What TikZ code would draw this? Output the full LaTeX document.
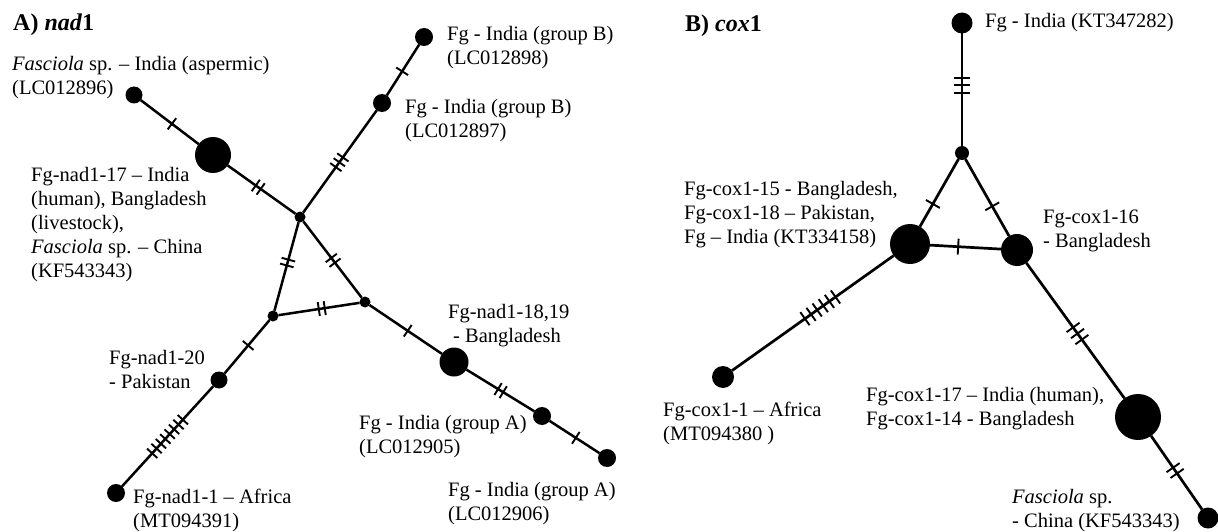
\documentclass[tikz,border=0pt]{standalone}
\usepackage{fontspec}
\setmainfont{Liberation Serif}
\newcommand\hatchmarks[6]{%
  \path (#1.center) -- (#2.center) node[pos=#3, sloped, inner sep=0pt, outer sep=0pt]
    {\tikz[x=1pt,y=1pt]{\foreach \k in {1,...,#4}{\draw[line width=1.9pt] (\k*#5,-#6)--(\k*#5,#6);}}};%
}
\tikzset{
  hap/.style={circle, fill=black, inner sep=0pt, outer sep=0pt, minimum size=#1},
  edge/.style={line width=2.5pt},
  lab/.style={anchor=base west, align=left, inner sep=0pt, font=\fontsize{20.5}{24}\selectfont},
  ttl/.style={anchor=base west, inner sep=0pt, font=\fontsize{24}{28}\selectfont\bfseries},
}
\begin{document}
\begin{tikzpicture}[x=1pt,y=-1pt]
\useasboundingbox (0,0) rectangle (1218,532);
\fill[white] (0,0) rectangle (1218,532);
% ---------------- A) nad1 ----------------
\node[ttl] (ta) at (13,31) {A) \textit{nad}1};
\node[hap=17] (L1) at (134,95) {};
\node[hap=36] (N17) at (213,155) {};
\node[hap=11] (J1) at (300,217) {};
\node[hap=18] (B1) at (382,103) {};
\node[hap=18] (B2) at (424,37) {};
\node[hap=11] (J2) at (273,316) {};
\node[hap=11] (J3) at (365,302) {};
\node[hap=17] (P) at (219,380) {};
\node[hap=18] (A) at (116,493) {};
\node[hap=29] (N18) at (454,362) {};
\node[hap=18] (GA1) at (542,416) {};
\node[hap=18] (GA2) at (607,458) {};
\draw[edge] (L1) -- (N17) -- (J1) -- (B1) -- (B2);
\draw[edge] (J1) -- (J2) -- (J3) -- (J1);
\draw[edge] (J2) -- (P) -- (A);
\draw[edge] (J3) -- (N18) -- (GA1) -- (GA2);
\hatchmarks{L1}{N17}{0.48}{1}{6}{7}
\hatchmarks{N17}{J1}{0.52}{2}{6}{7}
\hatchmarks{J1}{B1}{0.48}{3}{6}{7}
\hatchmarks{B1}{B2}{0.48}{1}{6}{7}
\hatchmarks{J1}{J2}{0.46}{2}{6}{7}
\hatchmarks{J1}{J3}{0.51}{2}{6}{7}
\hatchmarks{J2}{J3}{0.53}{2}{6}{7}
\hatchmarks{J2}{P}{0.46}{1}{6}{7}
\hatchmarks{P}{A}{0.5}{8}{6.5}{7}
\hatchmarks{J3}{N18}{0.48}{1}{6}{7}
\hatchmarks{N18}{GA1}{0.53}{2}{6}{7}
\hatchmarks{GA1}{GA2}{0.52}{1}{6}{7}
\node[lab] (lL1) at (12,95) {\textit{Fasciola} sp. -- India (aspermic)\\(LC012896)};
\node[lab] (lN17) at (31,277) {Fg-nad1-17 -- India\\(human), Bangladesh\\(livestock),\\\textit{Fasciola} sp. -- China\\(KF543343)};
\node[lab] (lB2) at (447,65) {Fg - India (group B)\\(LC012898)};
\node[lab] (lB1) at (405,138) {Fg - India (group B)\\(LC012897)};
\node[lab] (lP) at (109,388) {Fg-nad1-20\\ - Pakistan};
\node[lab] (lA) at (133,527) {Fg-nad1-1 -- Africa\\(MT094391)};
\node[lab] (lN18) at (448,342) {Fg-nad1-18,19\\\hspace*{5pt}- Bangladesh};
\node[lab] (lGA1) at (359,453) {Fg - India (group A)\\(LC012905)};
\node[lab] (lGA2) at (448,520) {Fg - India (group A)\\(LC012906)};
% ---------------- B) cox1 ----------------
\node[ttl] (tb) at (685,32) {B) \textit{cox}1};
\node[hap=21] (T) at (962,23) {};
\node[hap=14] (C) at (962,153) {};
\node[hap=40] (C15) at (910,244) {};
\node[hap=32] (C16) at (1017,250) {};
\node[hap=22] (AF) at (723,377) {};
\node[hap=46] (C17) at (1138,417) {};
\node[hap=21] (CH) at (1208,518) {};
\begin{scope}[edge/.append style={line width=2.7pt}]
\draw[edge] (T) -- (C);
\draw[edge] (C) -- (C15) -- (C16) -- (C);
\draw[edge] (C15) -- (AF);
\draw[edge] (C16) -- (C17) -- (CH);
\end{scope}
\hatchmarks{T}{C}{0.48}{3}{7.5}{8}
\hatchmarks{C}{C15}{0.56}{1}{7}{8}
\hatchmarks{C}{C16}{0.55}{1}{7}{8}
\hatchmarks{C15}{C16}{0.45}{1}{7}{8}
\hatchmarks{C15}{AF}{0.48}{6}{7.5}{8}
\hatchmarks{C16}{C17}{0.5}{3}{7.5}{8}
\hatchmarks{C17}{CH}{0.53}{2}{7}{8}
\node[lab] (lT) at (985,28) {Fg - India (KT347282)};
\node[lab] (lC15) at (684,243) {Fg-cox1-15 - Bangladesh,\\Fg-cox1-18 -- Pakistan,\\Fg -- India (KT334158)};
\node[lab] (lC16) at (1043,247) {Fg-cox1-16\\- Bangladesh};
\node[lab] (lC17) at (866,425) {Fg-cox1-17 -- India (human),\\Fg-cox1-14 - Bangladesh};
\node[lab] (lCH) at (1012,527) {\textit{Fasciola} sp.\\- China (KF543343)};
\node[lab] (lAF) at (663,440) {Fg-cox1-1 -- Africa\\(MT094380 )};
\end{tikzpicture}
\end{document}
